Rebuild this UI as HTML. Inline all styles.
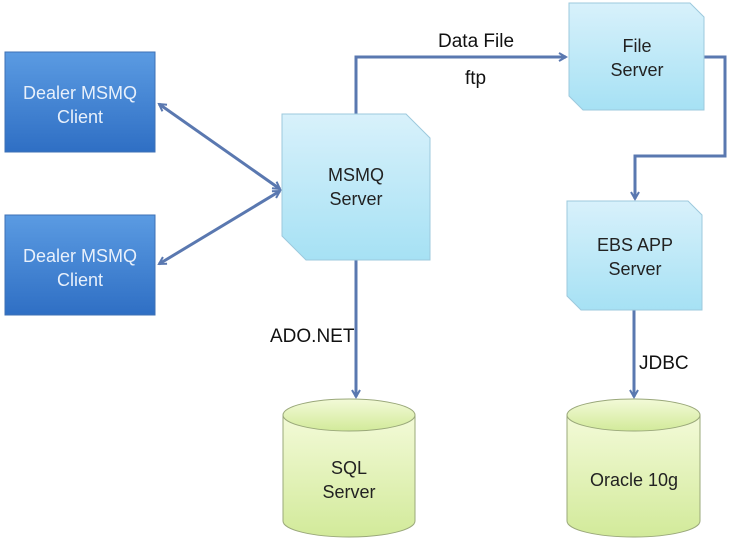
<!DOCTYPE html>
<html><head><meta charset="utf-8"><style>
html,body{margin:0;padding:0;background:#fff;}
svg text{font-family:"Liberation Sans","DejaVu Sans",sans-serif;}
</style></head><body>
<svg width="732" height="546" viewBox="0 0 732 546" xmlns="http://www.w3.org/2000/svg">
<defs>
<linearGradient id="blue" x1="0" y1="0" x2="0" y2="1"><stop offset="0" stop-color="#5b9be2"/><stop offset="1" stop-color="#2f6fc4"/></linearGradient>
<linearGradient id="cyan" x1="0" y1="0" x2="0" y2="1"><stop offset="0" stop-color="#d8f1fb"/><stop offset="1" stop-color="#a6e1f4"/></linearGradient>
<linearGradient id="green" x1="0" y1="0" x2="0" y2="1"><stop offset="0" stop-color="#f3fad8"/><stop offset="1" stop-color="#d2ea9a"/></linearGradient>
<marker id="ar" markerWidth="10" markerHeight="10" refX="8" refY="5" orient="auto" markerUnits="userSpaceOnUse"><path d="M1,1 L8,5 L1,9" fill="none" stroke="#5a78b0" stroke-width="2"/></marker>
<marker id="as" markerWidth="10" markerHeight="10" refX="2" refY="5" orient="auto" markerUnits="userSpaceOnUse"><path d="M9,1 L2,5 L9,9" fill="none" stroke="#5a78b0" stroke-width="2"/></marker>
</defs>
<g stroke="#5a78b0" stroke-width="3" fill="none">
<line x1="159" y1="104" x2="280" y2="189" marker-start="url(#as)" marker-end="url(#ar)"/>
<line x1="159" y1="264" x2="280" y2="191" marker-start="url(#as)" marker-end="url(#ar)"/>
<polyline points="356,114 356,57 566,57" marker-end="url(#ar)"/>
<polyline points="704,57 725,57 725,156 635,156 635,199" marker-end="url(#ar)"/>
<line x1="356" y1="260" x2="356" y2="397" marker-end="url(#ar)"/>
<line x1="634" y1="310" x2="634" y2="397" marker-end="url(#ar)"/>
</g>
<rect x="5" y="52" width="150" height="100" fill="url(#blue)" stroke="#3e70b5"/>
<rect x="5" y="215" width="150" height="100" fill="url(#blue)" stroke="#3e70b5"/>
<polygon points="282,114 406,114 430,138 430,260 306,260 282,236" fill="url(#cyan)" stroke="#9cc9dd"/>
<polygon points="569,3 690,3 704,17 704,110 583,110 569,96" fill="url(#cyan)" stroke="#9cc9dd"/>
<polygon points="567,201 688,201 702,215 702,310 581,310 567,296" fill="url(#cyan)" stroke="#9cc9dd"/>
<g stroke="#9aa87a" fill="url(#green)">
<path d="M283,415 L283,521 A66,16 0 0 0 415,521 L415,415 Z"/>
<ellipse cx="349" cy="415" rx="66" ry="16"/>
<path d="M567,415 L567,521 A66.5,16 0 0 0 700,521 L700,415 Z"/>
<ellipse cx="633.5" cy="415" rx="66.5" ry="16"/>
</g>
<g font-size="18" text-anchor="middle">
<text x="80" y="99" fill="#e8f0fb">Dealer MSMQ</text><text x="80" y="123" fill="#e8f0fb">Client</text>
<text x="80" y="262" fill="#e8f0fb">Dealer MSMQ</text><text x="80" y="286" fill="#e8f0fb">Client</text>
<text x="356" y="181" fill="#222">MSMQ</text><text x="356" y="205" fill="#222">Server</text>
<text x="637" y="52" fill="#222">File</text><text x="637" y="76" fill="#222">Server</text>
<text x="635" y="251" fill="#222">EBS APP</text><text x="635" y="275" fill="#222">Server</text>
<text x="349" y="474" fill="#222">SQL</text><text x="349" y="498" fill="#222">Server</text>
<text x="634" y="486" fill="#222">Oracle 10g</text>
</g>
<g font-size="19" fill="#111">
<text x="438" y="47">Data File</text>
<text x="465" y="84">ftp</text>
<text x="270" y="342">ADO.NET</text>
<text x="639" y="369">JDBC</text>
</g>
</svg>
</body></html>
